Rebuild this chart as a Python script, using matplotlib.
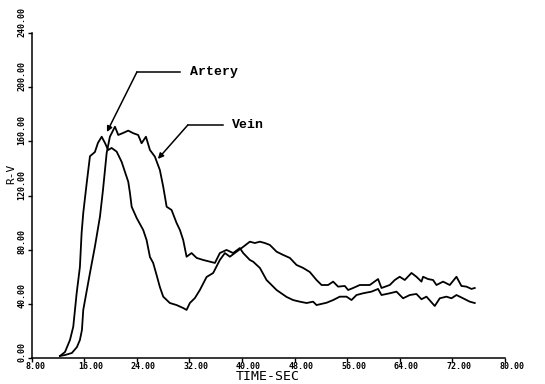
import matplotlib
matplotlib.use("Agg")
import matplotlib.pyplot as plt
from matplotlib.transforms import offset_copy

# ---- data ----
artery_t = [12.33, 13.09, 13.85, 14.35, 14.87, 15.36, 15.62, 15.87, 16.39, 16.89, 17.64, 18.10,
            18.67, 19.17, 19.66, 20.18, 20.95, 21.71, 22.20, 22.71, 22.97, 23.23, 23.99, 24.99,
            25.50, 26.01, 26.50, 27.02, 27.52, 28.03, 29.04, 30.06, 31.07, 31.58, 32.08, 32.85,
            33.60, 34.62, 35.63, 36.64, 37.41, 38.17, 39.18, 39.95, 41.20, 41.96, 42.73, 43.48,
            44.24, 45.27, 46.27, 47.29, 48.30, 49.31, 50.32, 51.34, 52.11, 53.10, 53.87, 54.62,
            55.64, 56.15, 56.90, 57.92, 59.44, 60.70, 61.22, 62.48, 63.24, 63.99, 64.76, 65.78,
            66.53, 67.30, 67.54, 68.30, 69.06, 69.58, 70.58, 71.60, 72.62, 73.37, 74.14, 74.90,
            75.40]
artery_v = [1.5, 4.4, 13.3, 23.1, 48.0, 67.2, 92.3, 107.1, 129.0, 149.0, 152.1, 158.8,
            163.4, 158.8, 153.6, 155.1, 152.4, 144.8, 137.6, 130.2, 121.9, 111.7, 103.4, 94.5,
            87.1, 74.6, 70.2, 61.3, 52.4, 45.3, 40.6, 39.1, 36.9, 35.5, 40.6, 44.3,
            50.2, 59.8, 62.8, 72.4, 77.5, 74.8, 78.5, 81.2, 85.9, 84.9, 85.9, 84.9,
            83.5, 78.5, 76.1, 73.9, 68.7, 66.5, 63.5, 57.6, 53.9, 53.9, 56.4, 52.7,
            53.2, 50.2, 51.7, 53.9, 53.9, 58.3, 51.7, 53.9, 57.6, 60.0, 57.6, 62.8,
            60.0, 56.4, 60.0, 58.3, 57.6, 53.9, 56.4, 53.9, 60.0, 53.2, 52.7, 51.0,
            51.7]

vein_t = [12.33, 13.09, 14.14, 14.91, 15.36, 15.67, 15.87, 16.89, 17.64, 18.41, 18.87, 19.43,
          19.92, 20.69, 21.19, 21.94, 22.71, 23.47, 24.22, 24.74, 25.40, 26.01, 26.76, 27.52,
          28.03, 28.55, 29.30, 30.06, 30.57, 31.07, 31.58, 32.34, 33.11, 34.10, 35.89, 36.64,
          37.66, 38.66, 39.68, 40.19, 41.20, 41.71, 42.73, 43.74, 45.27, 46.78, 47.78, 48.80,
          49.83, 50.82, 51.34, 52.86, 53.87, 54.88, 55.90, 56.66, 57.42, 58.43, 59.70, 60.70,
          61.22, 62.48, 63.50, 64.50, 65.52, 66.53, 67.30, 68.06, 69.32, 70.08, 71.10, 71.86,
          72.62, 73.62, 74.64, 75.40]
vein_v = [1.5, 2.2, 3.7, 8.1, 13.3, 20.7, 35.5, 62.8, 82.2, 104.4, 124.1, 151.4,
          163.4, 170.8, 164.7, 166.2, 167.9, 166.0, 164.7, 158.6, 163.4, 153.6, 148.7, 138.8,
          126.5, 111.7, 109.3, 99.7, 94.5, 87.1, 74.8, 77.5, 73.9, 72.4, 70.2, 77.5,
          79.8, 77.5, 81.2, 77.5, 72.4, 71.1, 66.5, 57.6, 50.2, 45.1, 42.8, 41.6,
          40.6, 41.6, 39.1, 40.8, 42.8, 45.3, 45.3, 42.8, 46.5, 47.8, 49.0, 51.0,
          46.5, 47.8, 49.0, 44.1, 46.5, 47.3, 43.4, 45.3, 38.4, 44.1, 45.3, 44.1,
          46.5, 44.1, 41.6, 40.6]

x_ticks = [8, 16, 24, 32, 40, 48, 56, 64, 72, 80]
x_tick_labels = ["8.00", "16.00", "24.00", "32.00", "40.00", "48.00", "56.00", "64.00", "72.00", "80.00"]
y_ticks = [0, 40, 80, 120, 160, 200, 240]
y_tick_labels = ["0.00", "40.00", "80.00", "120.00", "160.00", "200.00", "240.00"]

x_label = "TIME-SEC"
y_label = "R-V"
artery_label = "Artery"
vein_label = "Vein"

# ---- figure ----
fig = plt.figure(figsize=(5.45, 3.84), dpi=100)
W, H = 545, 384
ax = fig.add_axes([31.5 / W, 26 / H, 473.5 / W, 325 / H])
ax.plot(artery_t, artery_v, color="black", lw=1.3)
ax.plot(vein_t, vein_v, color="black", lw=1.3)
ax.set_xlim(8, 80)
ax.set_ylim(0, 240)
for s in ("top", "right"):
    ax.spines[s].set_visible(False)
for s in ("left", "bottom"):
    ax.spines[s].set_linewidth(1.1)
ax.set_xticks(x_ticks)
ax.set_xticklabels([])
ax.set_yticks(y_ticks)
ax.set_yticklabels([])
ax.tick_params(direction="out", length=3, width=1)

tick_font = dict(family="DejaVu Sans Mono", weight="bold", fontsize=6, color="black")
for t, lab in zip(x_ticks, x_tick_labels):
    tr = offset_copy(ax.transData, fig=fig, x=-6, y=-4, units="dots")
    ax.text(t, 0, lab, transform=tr, ha="left", va="top", **tick_font)
for v, lab in zip(y_ticks, y_tick_labels):
    tr = offset_copy(ax.transData, fig=fig, x=-5, y=-4, units="dots")
    ax.text(8, v, lab, transform=tr, ha="right", va="bottom", rotation=90, **tick_font)

fig.text(236 / W, 1 / H, x_label, ha="left", va="bottom", fontsize=9.5,
         family="DejaVu Sans Mono", color="black")
fig.text(11 / W, (H - 174) / H, y_label, ha="center", va="center", rotation=90,
         fontsize=8, family="DejaVu Sans Mono", color="black")

# annotations
ann_font = dict(family="Liberation Mono", weight="bold", fontsize=9.5, color="black")
ax.plot([24.03, 30.57], [211.2, 211.2], color="black", lw=1.1)
ax.annotate("", xy=(19.47, 166.9), xytext=(24.03, 211.2),
            arrowprops=dict(arrowstyle="-|>", color="black", lw=1.1, mutation_scale=8,
                            shrinkA=0, shrinkB=0))
ax.text(32.07, 211.2, artery_label, ha="left", va="center", **ann_font)

ax.plot([31.78, 37.10], [172.1, 172.1], color="black", lw=1.1)
ax.annotate("", xy=(27.22, 147.0), xytext=(31.78, 172.1),
            arrowprops=dict(arrowstyle="-|>", color="black", lw=1.1, mutation_scale=8,
                            shrinkA=0, shrinkB=0))
ax.text(38.47, 172.1, vein_label, ha="left", va="center", **ann_font)

fig.savefig("out.png", dpi=100)
